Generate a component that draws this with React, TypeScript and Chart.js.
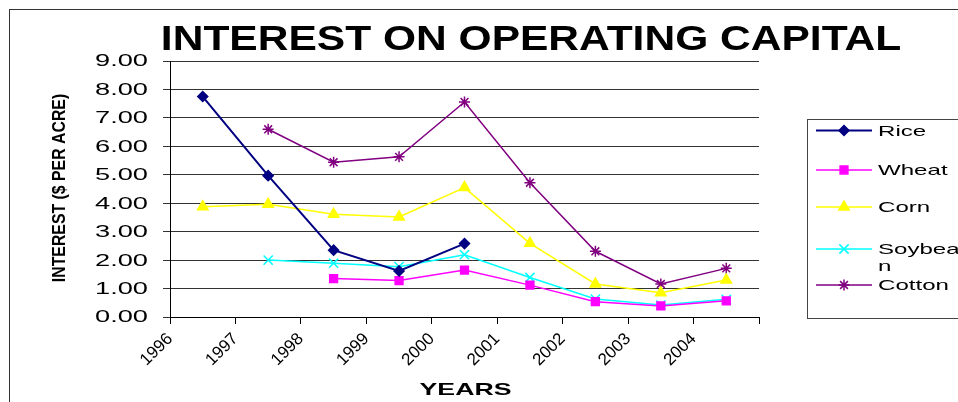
import { useEffect, useRef } from 'react';
import { Chart, registerables } from 'chart.js';
import { drawPoint } from 'chart.js/helpers';

Chart.register(...registerables);

const FONT = '"Liberation Sans", Arial, sans-serif';

const years = ['1996', '1997', '1998', '1999', '2000', '2001', '2002', '2003', '2004'];
const seriesNames = ['Rice', 'Wheat', 'Corn', 'Soybean', 'Cotton'];
const legendLines = [['Rice'], ['Wheat'], ['Corn'], ['Soybea', 'n'], ['Cotton']];

const rice = [7.75, 4.97, 2.35, 1.62, 2.58, null, null, null, null];
const wheat = [null, null, 1.35, 1.28, 1.65, 1.12, 0.54, 0.39, 0.57];
const corn = [3.88, 3.96, 3.61, 3.52, 4.55, 2.59, 1.16, 0.85, 1.30];
const soybean = [null, 2.0, 1.89, 1.77, 2.19, 1.39, 0.63, 0.42, 0.62];
const cotton = [null, 6.6, 5.44, 5.63, 7.56, 4.72, 2.31, 1.16, 1.71];

const yMin = 0;
const yMax = 9;
const yStep = 1;

const chartTitle = 'INTEREST ON OPERATING CAPITAL';
const yTitle = 'INTEREST ($ PER ACRE)';
const xTitle = 'YEARS';

const seriesValues = [rice, wheat, corn, soybean, cotton];
const seriesColors = ['#000080', '#FF00FF', '#FFFF00', '#00FFFF', '#800080'];
const seriesStyles = ['rectRot', 'rect', 'triangle', 'crossRot', 'star'];
const seriesRadius = [5, 5.5, 6, 6.5, 5.5];
const seriesLineWidth = [2, 1.5, 1.5, 1.5, 1.5];

function stretchText(
  ctx: CanvasRenderingContext2D,
  text: string,
  x: number,
  y: number,
  size: number,
  bold: boolean,
  sx: number,
  align: CanvasTextAlign,
  baseline: CanvasTextBaseline,
  rotate = 0
) {
  ctx.save();
  ctx.translate(x, y);
  if (rotate) ctx.rotate(rotate);
  ctx.scale(sx, 1);
  ctx.font = `${bold ? 'bold ' : ''}${size}px ${FONT}`;
  ctx.textAlign = align;
  ctx.textBaseline = baseline;
  ctx.fillStyle = '#000';
  ctx.fillText(text, 0, 0);
  ctx.restore();
}

const decorPlugin = {
  id: 'decor',
  afterDraw(chart: any) {
    const ctx: CanvasRenderingContext2D = chart.ctx;
    const ys = chart.scales.y;
    const area = chart.chartArea;

    ys.ticks.forEach((t: any) => {
      const py = ys.getPixelForValue(t.value);
      stretchText(ctx, Number(t.value).toFixed(2), area.left - 22, py + 1, 16, false, 1.7, 'right', 'middle');
    });

    stretchText(ctx, chartTitle, 521, 40, 35, true, 1.215, 'center', 'alphabetic');
    stretchText(ctx, yTitle, 55, (area.top + area.bottom) / 2 - 1, 18, true, 0.88, 'center', 'alphabetic', -Math.PI / 2);
    stretchText(ctx, xTitle, (area.left + area.right) / 2 + 1, 385, 17, true, 1.57, 'center', 'alphabetic');

    const boxLeft = 797;
    const boxTop = 109;
    const boxBottom = 308;
    ctx.save();
    ctx.strokeStyle = '#444';
    ctx.lineWidth = 1;
    ctx.strokeRect(boxLeft + 0.5, boxTop + 0.5, chart.width - boxLeft + 5, boxBottom - boxTop);
    ctx.restore();

    const entryY = [120.5, 160, 197, 239, 275];
    seriesNames.forEach((_, i) => {
      const y = entryY[i];
      ctx.save();
      ctx.strokeStyle = seriesColors[i];
      ctx.fillStyle = seriesColors[i];
      ctx.lineWidth = seriesLineWidth[i];
      ctx.beginPath();
      ctx.moveTo(806, y);
      ctx.lineTo(862, y);
      ctx.stroke();
      ctx.lineWidth = 1.5;
      drawPoint(ctx, { pointStyle: seriesStyles[i] as any, rotation: 0, radius: seriesRadius[i], borderWidth: 1.5 }, 834, y);
      ctx.restore();
      legendLines[i].forEach((line, j) => {
        stretchText(ctx, line, 868, y + 1 + j * 17, 14.5, false, 1.66, 'left', 'middle');
      });
    });
  },
};

export default function App() {
  const ref = useRef<HTMLCanvasElement | null>(null);

  useEffect(() => {
    if (!ref.current) return;
    const datasets = seriesNames.map((name, i) => ({
      label: name,
      data: seriesValues[i]
        .map((v, k) => (v == null ? null : { x: k + 0.5, y: v }))
        .filter((p) => p !== null) as { x: number; y: number }[],
      borderColor: seriesColors[i],
      backgroundColor: seriesColors[i],
      borderWidth: seriesLineWidth[i],
      pointStyle: seriesStyles[i] as any,
      pointRadius: seriesRadius[i],
      pointBorderWidth: 1.5,
      pointBackgroundColor: seriesColors[i],
      pointBorderColor: seriesColors[i],
      tension: 0,
      clip: false as any,
    }));

    const chart = new Chart(ref.current, {
      type: 'line',
      data: { datasets },
      options: {
        responsive: false,
        animation: false,
        layout: { padding: { left: 0, top: 51, right: 199, bottom: 0 } },
        plugins: {
          legend: { display: false },
          title: { display: false },
          tooltip: { enabled: false },
        },
        scales: {
          x: {
            type: 'linear',
            min: 0,
            max: years.length,
            afterFit: (s: any) => {
              s.height = 85;
            },
            ticks: {
              stepSize: 1,
              autoSkip: false,
              maxRotation: 45,
              minRotation: 45,
              color: '#000',
              padding: 5,
              font: { family: FONT, size: 17 },
              callback: (v: any) => years[v] ?? '',
            },
            grid: { drawOnChartArea: false, drawTicks: true, tickLength: 7, color: '#000' },
            border: { display: true, color: '#000' },
          },
          y: {
            type: 'linear',
            min: yMin,
            max: yMax,
            afterFit: (s: any) => {
              s.width = 160;
            },
            ticks: { stepSize: yStep, display: false },
            grid: { color: '#333', drawTicks: true, tickLength: 7 },
            border: { display: true, color: '#000' },
          },
        },
      },
      plugins: [decorPlugin],
    });
    return () => chart.destroy();
  }, []);

  return (
    <div
      style={{
        position: 'fixed',
        left: 9,
        top: 9,
        width: 948,
        height: 392,
        borderTop: '1px solid #333',
        borderLeft: '1px solid #333',
        background: '#fff',
      }}
    >
      <canvas ref={ref} width={948} height={392} style={{ display: 'block' }} />
    </div>
  );
}
